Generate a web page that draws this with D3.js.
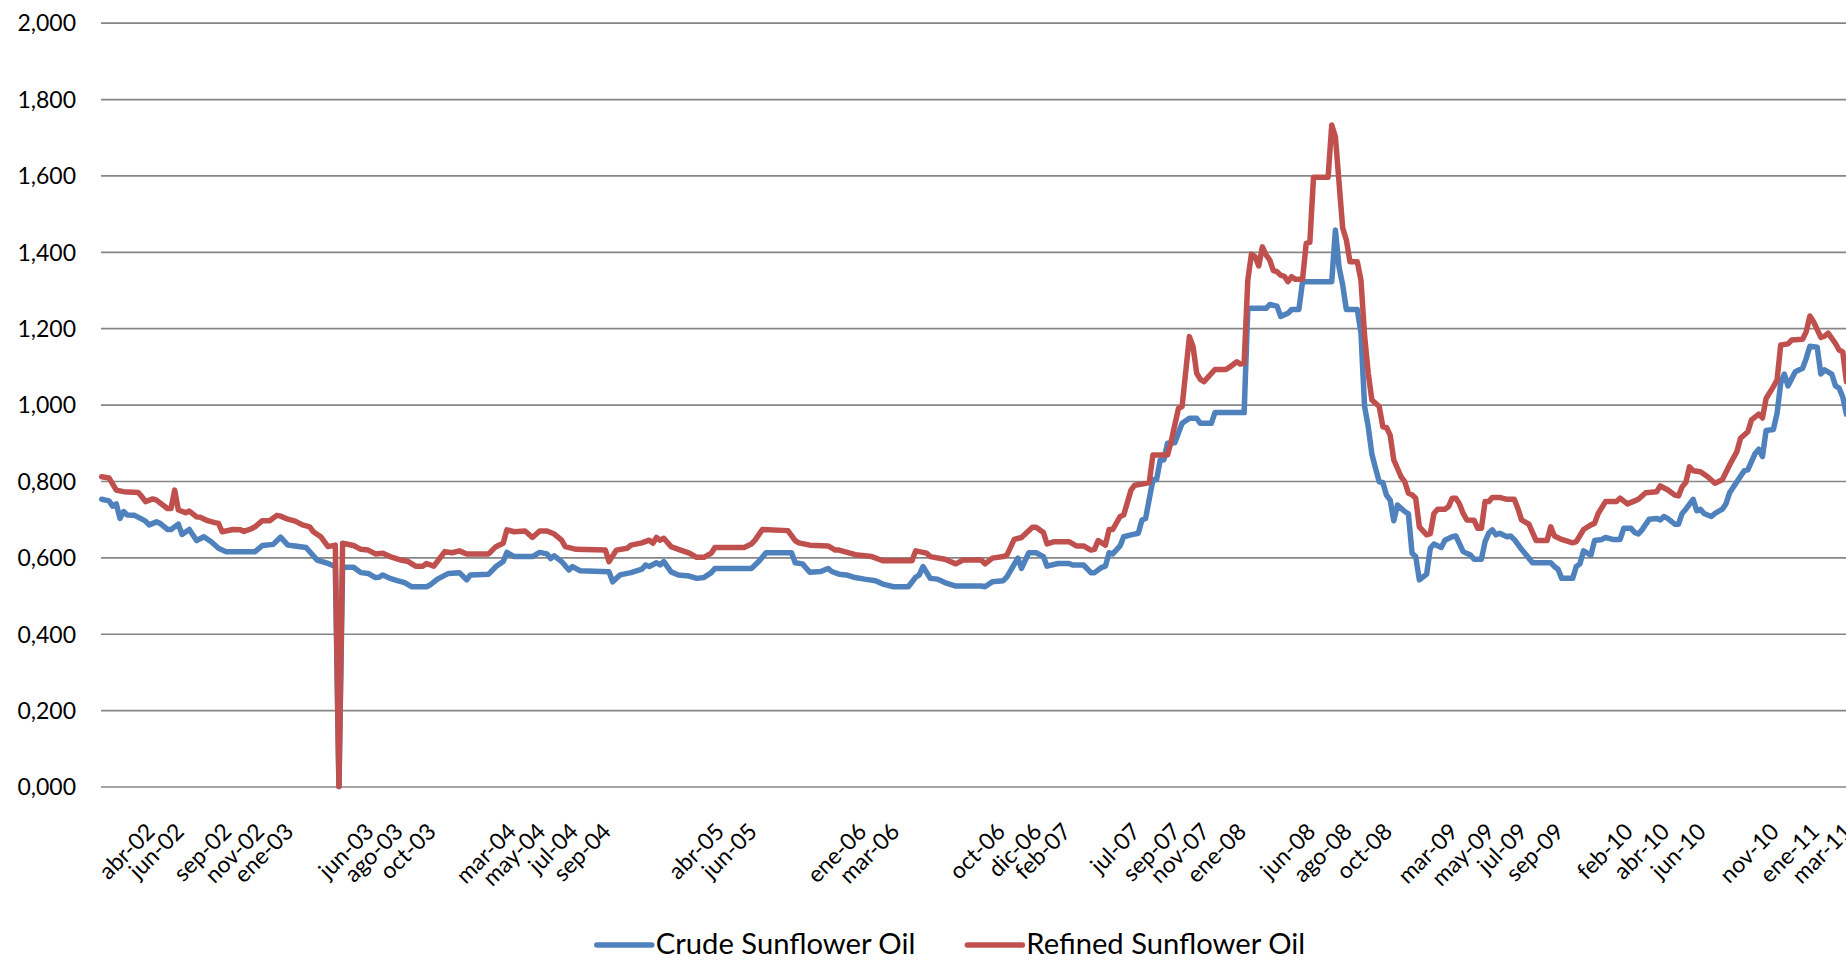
<!DOCTYPE html>
<html>
<head>
<meta charset="utf-8">
<script src="https://cdn.jsdelivr.net/npm/d3@7"></script>
<style>
  html, body { margin: 0; padding: 0; background: #fff; overflow: hidden; }
  svg { display: block; }
  text { font-family: Lato, "Open Sans", sans-serif; fill: #000; }
</style>
</head>
<body>
<svg id="chart" width="1846" height="961"></svg>
<script>
// Weekly sunflower oil prices (thousands), indexed by observation number.
const seriesNames = ["Crude Sunflower Oil", "Refined Sunflower Oil"];

const crudeObs = [0,2,3,4,5,6,7,9,11,12,13,15,16,18,19,21,22,24,26,28,30,32,34,42,44,47,49,51,53,56,59,62,64,65,66,69,71,73,75,76,77,79,81,83,85,89,90,92,95,98,100,101,106,108,110,111,113,118,120,122,123,124,126,128,129,131,139,140,142,145,148,149,150,152,153,154,156,158,161,163,165,167,168,178,180,182,189,190,192,194,197,199,200,202,204,206,209,212,214,217,221,223,224,225,227,229,231,234,241,242,244,247,248,251,252,254,256,258,259,262,265,266,269,271,272,274,275,276,277,279,280,282,284,285,286,288,289,290,291,292,294,296,298,300,301,304,305,313,314,319,320,322,323,325,326,328,329,337,338,339,340,341,344,345,346,347,348,349,350,351,352,353,354,355,357,358,359,360,361,363,364,365,367,368,370,371,373,375,376,378,379,380,381,382,383,385,386,387,389,391,392,397,398,399,400,403,404,405,406,408,409,411,412,414,416,417,419,420,421,422,424,426,427,428,429,431,432,433,434,436,437,438,439,441,442,444,445,446,448,450,451,453,454,455,456,458,459,460,461,462,464,466,467,468,470,471,472,474,475,476,477,478];
const crude = [0.752,0.748,0.734,0.740,0.702,0.720,0.711,0.710,0.700,0.695,0.685,0.693,0.689,0.673,0.673,0.687,0.660,0.673,0.644,0.654,0.641,0.624,0.615,0.615,0.631,0.634,0.653,0.632,0.630,0.626,0.593,0.584,0.576,0.000,0.574,0.574,0.560,0.558,0.547,0.548,0.554,0.545,0.539,0.534,0.523,0.523,0.528,0.543,0.558,0.560,0.541,0.554,0.556,0.576,0.589,0.613,0.602,0.602,0.613,0.609,0.597,0.604,0.589,0.567,0.576,0.565,0.562,0.536,0.554,0.560,0.569,0.580,0.576,0.586,0.580,0.589,0.562,0.554,0.551,0.545,0.547,0.560,0.571,0.571,0.589,0.612,0.612,0.586,0.583,0.561,0.563,0.571,0.563,0.556,0.554,0.548,0.543,0.539,0.530,0.523,0.523,0.548,0.554,0.576,0.545,0.543,0.534,0.525,0.525,0.523,0.536,0.539,0.549,0.598,0.571,0.612,0.612,0.602,0.577,0.584,0.584,0.580,0.580,0.560,0.560,0.574,0.577,0.612,0.609,0.630,0.654,0.659,0.663,0.698,0.702,0.803,0.803,0.855,0.855,0.899,0.900,0.951,0.964,0.964,0.951,0.951,0.979,0.979,1.252,1.252,1.262,1.258,1.231,1.239,1.249,1.249,1.322,1.322,1.457,1.360,1.313,1.249,1.249,1.187,0.995,0.942,0.870,0.833,0.798,0.796,0.763,0.750,0.696,0.737,0.720,0.714,0.611,0.602,0.541,0.556,0.624,0.635,0.626,0.645,0.654,0.656,0.615,0.606,0.595,0.595,0.641,0.663,0.672,0.659,0.663,0.654,0.656,0.647,0.621,0.598,0.586,0.586,0.576,0.569,0.545,0.545,0.576,0.583,0.617,0.606,0.644,0.647,0.652,0.647,0.647,0.676,0.676,0.665,0.661,0.672,0.700,0.702,0.698,0.707,0.702,0.687,0.687,0.715,0.726,0.752,0.722,0.726,0.715,0.707,0.715,0.726,0.740,0.769,0.798,0.827,0.829,0.872,0.883,0.864,0.932,0.935,0.977,1.056,1.080,1.049,1.086,1.095,1.121,1.153,1.150,1.080,1.091,1.080,1.049,1.043,1.020,0.975];

const refinedObs = [0,2,4,6,10,11,12,14,15,18,19,20,21,23,24,26,27,29,31,32,33,36,38,39,41,42,44,46,48,49,51,53,55,57,58,60,62,64,65,66,69,71,73,75,77,79,82,84,86,88,89,91,94,96,98,100,106,108,110,111,113,116,118,120,122,124,126,127,130,138,139,141,144,145,148,150,151,152,153,154,156,158,161,163,165,167,168,176,178,179,181,188,190,191,194,199,201,202,205,207,211,214,222,223,226,227,231,234,236,241,242,244,247,248,250,252,255,256,258,259,261,265,267,269,271,272,273,275,276,277,279,280,282,283,285,287,288,292,293,295,296,298,299,300,301,302,305,308,309,311,312,313,314,315,316,317,318,319,320,321,322,323,324,325,326,327,329,330,331,332,336,337,338,340,341,342,344,345,346,347,348,350,351,352,353,354,356,357,358,359,360,361,363,364,365,366,368,369,370,371,372,373,374,376,377,378,379,380,381,383,385,387,388,389,391,393,396,397,398,400,403,404,406,408,409,410,412,415,416,418,420,421,423,426,427,429,431,432,433,434,435,436,438,440,442,444,446,448,449,451,452,454,455,456,458,459,460,462,463,466,467,468,469,471,472,473,475,476,477,478];
const refined = [0.811,0.808,0.776,0.772,0.770,0.759,0.746,0.753,0.750,0.728,0.728,0.776,0.724,0.717,0.721,0.706,0.705,0.696,0.691,0.689,0.667,0.673,0.672,0.668,0.675,0.680,0.696,0.696,0.710,0.708,0.700,0.695,0.685,0.680,0.667,0.654,0.628,0.632,0.000,0.637,0.631,0.621,0.619,0.609,0.611,0.602,0.593,0.589,0.577,0.577,0.584,0.577,0.615,0.612,0.617,0.609,0.609,0.628,0.637,0.672,0.667,0.669,0.652,0.669,0.669,0.661,0.645,0.628,0.621,0.619,0.589,0.619,0.624,0.632,0.638,0.645,0.637,0.652,0.645,0.650,0.628,0.621,0.611,0.600,0.600,0.611,0.626,0.626,0.635,0.645,0.673,0.670,0.644,0.638,0.632,0.630,0.619,0.619,0.611,0.606,0.602,0.591,0.591,0.617,0.611,0.602,0.595,0.583,0.593,0.593,0.583,0.598,0.602,0.606,0.647,0.652,0.679,0.679,0.665,0.635,0.641,0.641,0.630,0.630,0.619,0.621,0.644,0.632,0.673,0.673,0.707,0.711,0.776,0.789,0.792,0.796,0.868,0.868,0.903,0.990,0.995,1.178,1.152,1.082,1.066,1.060,1.092,1.092,1.098,1.112,1.106,1.108,1.326,1.394,1.387,1.363,1.413,1.392,1.379,1.351,1.348,1.339,1.336,1.322,1.335,1.328,1.328,1.422,1.425,1.595,1.595,1.732,1.701,1.462,1.431,1.374,1.374,1.326,1.180,1.082,1.012,0.995,0.942,0.940,0.920,0.855,0.811,0.798,0.768,0.764,0.755,0.680,0.659,0.662,0.715,0.726,0.726,0.733,0.755,0.755,0.740,0.715,0.698,0.697,0.676,0.676,0.746,0.746,0.757,0.757,0.752,0.752,0.728,0.698,0.687,0.644,0.644,0.680,0.656,0.647,0.638,0.641,0.673,0.685,0.689,0.715,0.746,0.746,0.755,0.740,0.748,0.752,0.769,0.772,0.787,0.777,0.763,0.761,0.785,0.796,0.837,0.827,0.824,0.811,0.794,0.803,0.842,0.877,0.912,0.929,0.960,0.975,0.965,1.016,1.047,1.064,1.156,1.159,1.169,1.171,1.191,1.232,1.217,1.176,1.179,1.187,1.160,1.143,1.138,1.060];

// Category axis labels and the observation each one sits on.
const tickObs = [14,22,35,44,52,74,82,91,113,121,130,139,170,179,209,218,247,257,265,284,295,303,313,332,342,353,371,381,390,400,419,429,439,459,470,479];
const tickLabels = ["abr-02","jun-02","sep-02","nov-02","ene-03","jun-03","ago-03","oct-03","mar-04","may-04","jul-04","sep-04","abr-05","jun-05","ene-06","mar-06","oct-06","dic-06","feb-07","jul-07","sep-07","nov-07","ene-08","jun-08","ago-08","oct-08","mar-09","may-09","jul-09","sep-09","feb-10","abr-10","jun-10","nov-10","ene-11","mar-11"];

const yTicks = [0, 0.2, 0.4, 0.6, 0.8, 1.0, 1.2, 1.4, 1.6, 1.8, 2.0];

const colors = ["#4F81BD", "#C0504D"];

const W = 1846, H = 961;
const plot = { left: 101, top: 22.7, bottom: 786.5, right: 1846.4 };

const svg = d3.select("#chart");

const x = d3.scaleLinear().domain([0, 478]).range([plot.left + 0.7, plot.right]);
const y = d3.scaleLinear().domain([0, 2]).range([plot.bottom, plot.top]);

const locale = d3.formatLocale({ decimal: ",", thousands: ".", grouping: [3], currency: ["", ""] });
const fmt = locale.format(".3f");

// Horizontal gridlines with value labels
const yAxis = d3.axisLeft(y)
  .tickValues(yTicks)
  .tickFormat(fmt)
  .tickSizeInner(-(W - plot.left + 10))
  .tickSizeOuter(0)
  .tickPadding(25);

const gy = svg.append("g")
  .attr("transform", `translate(${plot.left},0)`)
  .call(yAxis);
gy.select(".domain").remove();
gy.selectAll(".tick line")
  .attr("stroke", "#868686")
  .attr("stroke-width", 1.7);
gy.selectAll(".tick text")
  .attr("font-family", "Lato, 'Open Sans', sans-serif")
  .attr("font-size", 23)
  .attr("fill", "#000")
  .attr("dy", "0.36em");

// Rotated category labels
const xAxis = d3.axisBottom(x)
  .tickValues(tickObs)
  .tickFormat((d, i) => tickLabels[i])
  .tickSize(0);

const gx = svg.append("g")
  .attr("transform", "translate(3,833)")
  .call(xAxis);
gx.select(".domain").remove();
gx.selectAll(".tick text")
  .attr("font-family", "Lato, 'Open Sans', sans-serif")
  .attr("font-size", 23)
  .attr("fill", "#000")
  .attr("y", 0)
  .attr("dy", 0)
  .attr("text-anchor", "end")
  .attr("transform", "rotate(-45)");

// Series lines
const line = d3.line()
  .x(d => x(d.obs))
  .y(d => y(d.v));

const series = [
  crudeObs.map((o, i) => ({ obs: o, v: crude[i] })),
  refinedObs.map((o, i) => ({ obs: o, v: refined[i] }))
];

svg.append("g")
  .selectAll("path")
  .data(series)
  .join("path")
  .attr("d", line)
  .attr("fill", "none")
  .attr("stroke", (d, i) => colors[i])
  .attr("stroke-width", 5.5)
  .attr("stroke-linejoin", "round")
  .attr("stroke-linecap", "round");

// Legend, centred under the plot
const legend = svg.append("g").attr("transform", "translate(0,945)");
const sampleLen = 55, sampleGap = 4, itemGap = 52;
const items = legend.selectAll("g.item")
  .data(seriesNames)
  .join("g")
  .attr("class", "item");
items.append("line")
  .attr("x1", 0).attr("x2", sampleLen)
  .attr("y1", 0).attr("y2", 0)
  .attr("stroke", (d, i) => colors[i])
  .attr("stroke-width", 5.5)
  .attr("stroke-linecap", "round");
items.append("text")
  .attr("x", sampleLen + sampleGap)
  .attr("y", 0)
  .attr("dy", "0.32em")
  .attr("font-size", 29.2)
  .text(d => d);

const widths = [];
items.each(function () {
  widths.push(sampleLen + sampleGap + d3.select(this).select("text").node().getComputedTextLength());
});
const total = d3.sum(widths) + itemGap * (widths.length - 1);
let cx = 951 - total / 2;
items.attr("transform", (d, i) => {
  const t = `translate(${cx},0)`;
  cx += widths[i] + itemGap;
  return t;
});
</script>
</body>
</html>
